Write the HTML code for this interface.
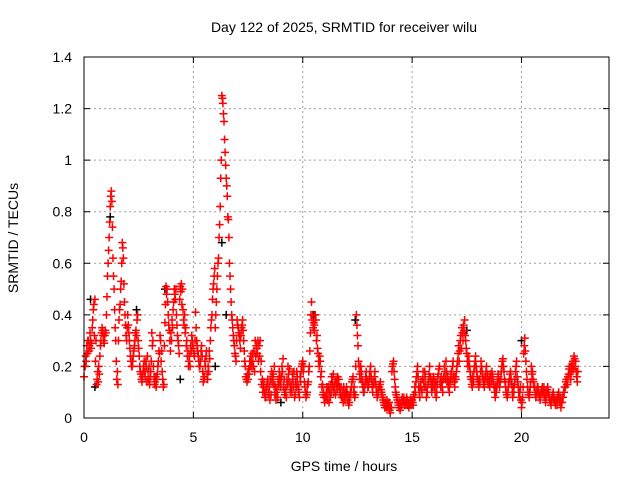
<!DOCTYPE html>
<html><head><meta charset="utf-8"><style>
body{margin:0;background:#fff}
svg{display:block;font-family:"Liberation Sans",sans-serif}
</style></head><body>
<svg id="chart" width="640" height="480" viewBox="0 0 640 480">
<rect width="640" height="480" fill="#fff"/>
<text x="344" y="32" font-size="14" text-anchor="middle">Day 122 of 2025, SRMTID for receiver wilu</text>
<text x="344" y="471" font-size="14" text-anchor="middle">GPS time / hours</text>
<text transform="translate(18,238) rotate(-90)" font-size="14" text-anchor="middle">SRMTID / TECUs</text>
<g id="grid"></g>
<g id="ticks"></g>
<g id="black-series"></g>
<g id="red-series"></g>
<rect x="84" y="57" width="525" height="361" fill="none" stroke="#000" stroke-width="1"/>
</svg>
<script>
const xTicks = [0, 5, 10, 15, 20];
const yTicks = [0, 0.2, 0.4, 0.6, 0.8, 1, 1.2, 1.4];
const yTickLabels = ["0", "0.2", "0.4", "0.6", "0.8", "1", "1.2", "1.4"];
const hourBins = [0,1,2,3,4,5,6,7,8,9,10,11,12,13,14,15,16,17,18,19,20,21,22];
const redValues = [
[0.16,0.2,0.22,0.25,0.3,0.28,0.3,0.29,0.38,0.44,0.46,0.3,0.15,0.14,0.17,0.28,0.33,0.34,0.3,0.32],
[0.33,0.47,0.6,0.7,0.82,0.88,0.74,0.55,0.42,0.3,0.15,0.13,0.38,0.44,0.53,0.68,0.62,0.45,0.36,0.3],
[0.4,0.33,0.27,0.22,0.2,0.24,0.28,0.33,0.32,0.4,0.27,0.2,0.17,0.14,0.18,0.22,0.16,0.2,0.24,0.15],
[0.13,0.18,0.33,0.3,0.16,0.14,0.12,0.17,0.22,0.25,0.3,0.26,0.15,0.13,0.37,0.51,0.5,0.4,0.34,0.26],
[0.3,0.35,0.45,0.48,0.5,0.36,0.3,0.25,0.51,0.52,0.5,0.38,0.4,0.35,0.3,0.26,0.22,0.2,0.26,0.3],
[0.27,0.24,0.41,0.3,0.26,0.22,0.2,0.26,0.24,0.14,0.16,0.2,0.26,0.15,0.18,0.23,0.35,0.4,0.5,0.55],
[0.35,0.45,0.55,0.62,0.75,0.93,1.25,1.22,1.15,1.03,0.93,0.86,0.77,0.6,0.5,0.4,0.35,0.3,0.25,0.22],
[0.38,0.35,0.32,0.27,0.35,0.38,0.3,0.22,0.16,0.14,0.15,0.17,0.2,0.22,0.25,0.2,0.18,0.24,0.27,0.3],
[0.28,0.3,0.22,0.15,0.12,0.1,0.08,0.12,0.15,0.1,0.07,0.09,0.14,0.17,0.2,0.12,0.1,0.08,0.13,0.16],
[0.12,0.2,0.23,0.15,0.1,0.08,0.13,0.17,0.19,0.12,0.1,0.15,0.18,0.09,0.12,0.16,0.11,0.08,0.14,0.2],
[0.22,0.2,0.12,0.08,0.1,0.14,0.2,0.33,0.45,0.4,0.37,0.34,0.38,0.32,0.25,0.2,0.22,0.18,0.13,0.1],
[0.06,0.08,0.12,0.1,0.06,0.08,0.1,0.14,0.17,0.12,0.09,0.13,0.16,0.15,0.1,0.12,0.08,0.06,0.09,0.1],
[0.12,0.07,0.05,0.08,0.1,0.14,0.16,0.12,0.09,0.4,0.32,0.22,0.17,0.2,0.15,0.12,0.1,0.13,0.18,0.14],
[0.12,0.16,0.2,0.15,0.1,0.14,0.18,0.12,0.08,0.1,0.12,0.14,0.1,0.08,0.06,0.04,0.05,0.07,0.04,0.06],
[0.02,0.04,0.2,0.22,0.15,0.1,0.08,0.06,0.04,0.03,0.05,0.08,0.07,0.05,0.06,0.08,0.05,0.04,0.06,0.05],
[0.07,0.05,0.08,0.1,0.16,0.2,0.12,0.08,0.14,0.1,0.18,0.12,0.16,0.08,0.1,0.14,0.2,0.15,0.1,0.12],
[0.15,0.1,0.08,0.13,0.17,0.2,0.12,0.14,0.1,0.16,0.18,0.22,0.14,0.12,0.1,0.15,0.18,0.2,0.16,0.12],
[0.15,0.2,0.25,0.22,0.3,0.27,0.33,0.36,0.38,0.3,0.25,0.2,0.22,0.18,0.15,0.12,0.14,0.2,0.24,0.18],
[0.15,0.12,0.14,0.22,0.18,0.15,0.12,0.16,0.2,0.17,0.14,0.12,0.16,0.18,0.15,0.12,0.08,0.1,0.14,0.16],
[0.12,0.15,0.2,0.23,0.18,0.14,0.1,0.08,0.12,0.15,0.18,0.13,0.08,0.1,0.15,0.2,0.16,0.12,0.08,0.12],
[0.04,0.08,0.25,0.31,0.22,0.15,0.1,0.08,0.12,0.2,0.18,0.14,0.12,0.08,0.1,0.12,0.09,0.07,0.1,0.12],
[0.1,0.08,0.06,0.1,0.12,0.09,0.07,0.05,0.08,0.1,0.07,0.05,0.06,0.08,0.1,0.06,0.04,0.06,0.08,0.1],
[0.12,0.15,0.13,0.17,0.2,0.15,0.18,0.22,0.24,0.2,0.18,0.14]
];
const redValues2 = [
[0.2,0.24,0.28,0.3,0.26,0.33,0.27,0.35,0.42,0.32,0.22,0.13,0.18,0.2,0.24,0.3,0.35,0.32,0.29,0.34],
[0.4,0.55,0.65,0.76,0.86,0.84,0.62,0.5,0.35,0.22,0.18,0.3,0.42,0.5,0.6,0.66,0.52,0.4,0.32,0.35],
[0.36,0.3,0.24,0.2,0.22,0.26,0.3,0.34,0.38,0.3,0.24,0.18,0.15,0.16,0.2,0.18,0.22,0.14,0.18,0.2],
[0.16,0.22,0.28,0.2,0.13,0.16,0.15,0.2,0.26,0.32,0.22,0.18,0.12,0.28,0.44,0.48,0.45,0.36,0.3,0.33],
[0.38,0.42,0.5,0.46,0.4,0.32,0.28,0.46,0.49,0.44,0.42,0.36,0.33,0.28,0.24,0.2,0.24,0.28,0.32,0.28],
[0.25,0.3,0.35,0.28,0.24,0.2,0.22,0.28,0.18,0.15,0.22,0.24,0.17,0.2,0.26,0.3,0.38,0.46,0.52,0.58],
[0.4,0.5,0.6,0.7,0.82,1.0,1.24,1.18,1.08,0.98,0.9,0.78,0.7,0.55,0.45,0.38,0.32,0.28,0.24,0.3],
[0.36,0.33,0.3,0.32,0.36,0.34,0.26,0.2,0.15,0.17,0.19,0.22,0.24,0.2,0.22,0.26,0.3,0.28,0.25,0.22],
[0.24,0.18,0.13,0.1,0.14,0.08,0.11,0.13,0.09,0.12,0.15,0.18,0.16,0.13,0.09,0.07,0.11,0.15,0.18,0.14],
[0.16,0.18,0.12,0.09,0.11,0.15,0.2,0.14,0.1,0.13,0.17,0.12,0.08,0.14,0.18,0.13,0.1,0.16,0.18,0.21],
[0.18,0.14,0.1,0.09,0.13,0.18,0.26,0.4,0.38,0.35,0.36,0.4,0.3,0.27,0.22,0.24,0.16,0.12,0.09,0.08],
[0.08,0.1,0.07,0.12,0.1,0.13,0.16,0.12,0.1,0.14,0.15,0.11,0.13,0.12,0.09,0.08,0.1,0.12,0.07,0.09],
[0.1,0.09,0.06,0.1,0.12,0.15,0.1,0.08,0.2,0.36,0.28,0.2,0.15,0.18,0.14,0.1,0.12,0.16,0.15,0.12],
[0.14,0.18,0.16,0.12,0.13,0.16,0.14,0.1,0.09,0.12,0.13,0.11,0.09,0.07,0.05,0.06,0.04,0.05,0.06,0.03],
[0.04,0.18,0.21,0.18,0.12,0.09,0.07,0.05,0.06,0.04,0.07,0.06,0.08,0.06,0.05,0.07,0.06,0.05,0.07,0.06],
[0.06,0.09,0.12,0.14,0.18,0.16,0.1,0.12,0.11,0.15,0.14,0.18,0.12,0.1,0.13,0.17,0.16,0.12,0.14,0.16],
[0.12,0.14,0.1,0.16,0.19,0.14,0.16,0.12,0.15,0.2,0.15,0.18,0.16,0.14,0.13,0.17,0.15,0.22,0.14,0.16],
[0.18,0.22,0.28,0.26,0.32,0.35,0.3,0.34,0.32,0.27,0.22,0.24,0.2,0.16,0.13,0.16,0.18,0.22,0.2,0.16],
[0.13,0.15,0.18,0.2,0.16,0.13,0.15,0.18,0.15,0.13,0.15,0.17,0.14,0.16,0.13,0.1,0.12,0.12,0.17,0.14],
[0.14,0.18,0.22,0.2,0.15,0.12,0.09,0.1,0.14,0.17,0.15,0.1,0.12,0.13,0.18,0.22,0.14,0.1,0.1,0.07],
[0.06,0.12,0.28,0.26,0.18,0.12,0.09,0.1,0.14,0.17,0.15,0.12,0.1,0.09,0.12,0.1,0.08,0.09,0.11,0.1],
[0.12,0.1,0.08,0.11,0.1,0.08,0.06,0.07,0.09,0.08,0.06,0.07,0.05,0.09,0.07,0.08,0.06,0.08,0.1,0.12],
[0.14,0.13,0.16,0.19,0.17,0.2,0.21,0.19,0.23,0.22,0.16,0.18]
];
const blackHours = [0.3,0.5,1.2,2.4,3.7,4.4,6.0,6.3,6.5,9.0,10.5,12.4,17.5,20.0];
const blackValues = [0.46,0.12,0.78,0.42,0.5,0.15,0.2,0.68,0.4,0.06,0.4,0.38,0.34,0.3];

const X0=84, X1=609, Y0=418, Y1=57, XMAX=24, YMAX=1.4;
const xs = h => X0 + (X1-X0)*h/XMAX;
const ys = v => Y0 - (Y0-Y1)*v/YMAX;
const NS='http://www.w3.org/2000/svg';
const grid=document.getElementById('grid'), ticks=document.getElementById('ticks');
function mk(tag, attrs){const e=document.createElementNS(NS,tag);for(const k in attrs)e.setAttribute(k,attrs[k]);return e;}

xTicks.forEach(t=>{
  const x=xs(t);
  if(t>0){const g=mk('line',{x1:x,x2:x,y1:Y0,y2:Y1,stroke:'#a0a0a0','stroke-dasharray':'2,3'});
  
  
  grid.appendChild(g);}
  const tk=mk('path',{d:`M${x} ${Y0}v-6M${x} ${Y1}v6`,stroke:'#000'});
  
  
  ticks.appendChild(tk);
  const lb=mk('text',{x:x,y:Y0+24,'font-size':14,'text-anchor':'middle'});
  lb.textContent=t;
  
  
  ticks.appendChild(lb);
});
yTicks.forEach((t,i)=>{
  const y=ys(t);
  if(t>0&&t<YMAX){const g=mk('line',{x1:X0,x2:X1,y1:y,y2:y,stroke:'#a0a0a0','stroke-dasharray':'2,3'});
  
  
  grid.appendChild(g);}
  const tk=mk('path',{d:`M${X0} ${y}h6M${X1} ${y}h-6`,stroke:'#000'});
  
  
  ticks.appendChild(tk);
  const lb=mk('text',{x:X0-12,y:y+5,'font-size':14,'text-anchor':'end'});
  lb.textContent=yTickLabels[i];
  
  
  ticks.appendChild(lb);
});
function plus(parent,h,v,color){
  const x=xs(h), y=ys(v);
  const p=mk('path',{d:`M${x-4} ${y}h8M${x} ${y-4}v8`,stroke:color,'stroke-width':1.5});
  
  
  parent.appendChild(p);
}
const bs=document.getElementById('black-series');
blackHours.forEach((h,i)=>plus(bs,h,blackValues[i],'#000'));
const rs=document.getElementById('red-series');
hourBins.forEach((hb,bi)=>{
  redValues[bi].forEach((v,i)=>plus(rs,hb+i/20,v,'#f00'));
  redValues2[bi].forEach((v,i)=>plus(rs,hb+(i+0.5)/20,v,'#f00'));
});
</script>
</body></html>
